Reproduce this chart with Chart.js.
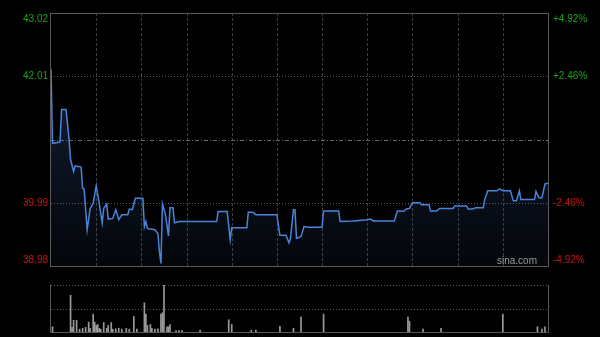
<!DOCTYPE html>
<html>
<head>
<meta charset="utf-8">
<script src="https://cdn.jsdelivr.net/npm/chart.js@4.4.1/dist/chart.umd.min.js"></script>
<style>
  html, body { margin: 0; padding: 0; background: #000; }
  #wrap { position: relative; width: 600px; height: 337px; overflow: hidden; }
  canvas { position: absolute; left: 0; }
</style>
</head>
<body>
<div id="wrap">
  <canvas id="price" style="top:0;width:600px;height:270px"></canvas>
  <canvas id="vol" style="top:270px;width:600px;height:67px"></canvas>
</div>
<script>
// minutes since open (HK session, 330 min) where the price line turns
const minutes = [0,1,6,7,10,12,13,15,16,20,21,22,24,26,28,30,32,34,35,37,38,41,43,45,47,51,52,54,56,61,62,63,64,66,69,71,72,73,74,76,78,79,81,82,85,110,111,117,119,120,130,131,134,136,150,152,156,158,159,161,162,163,166,168,171,180,181,191,192,201,210,212,214,228,230,232,234,236,238,240,245,246,251,252,256,258,267,268,276,277,280,282,287,288,290,296,298,300,305,307,309,311,312,321,322,324,326,328,330];
const prices = [42.12,40.94,40.96,41.48,41.48,41.00,40.68,40.49,40.58,40.56,40.22,40.21,39.56,39.90,39.98,40.26,39.99,39.67,39.90,39.97,39.73,39.74,39.88,39.72,39.80,39.80,39.89,39.88,40.06,40.06,39.61,39.69,39.58,39.57,39.56,39.50,39.21,39.02,39.97,39.80,39.46,39.91,39.91,39.67,39.69,39.69,39.85,39.85,39.40,39.59,39.59,39.84,39.84,39.80,39.80,39.47,39.47,39.35,39.42,39.88,39.88,39.42,39.45,39.61,39.60,39.60,39.86,39.86,39.69,39.70,39.72,39.73,39.70,39.70,39.86,39.86,39.85,39.89,39.90,39.99,39.99,39.96,39.96,39.86,39.86,39.90,39.90,39.94,39.94,39.89,39.89,39.91,39.91,40.04,40.18,40.18,40.21,40.18,40.18,40.02,40.02,40.18,40.04,40.04,40.17,40.07,40.07,40.29,40.30];

// volume bars (relative to the tallest bar = 100)
const volMinutes = [1,13,14,15,17,19,21,23,25,26,28,29,30,31,32,33,35,37,38,40,41,43,45,47,50,52,55,57,62,63,64,66,67,69,71,73,74,75,77,78,79,83,85,87,99,118,120,133,136,152,161,166,181,237,238,247,259,300,323,326,328];
const volValues = [11,78,10,25,25,6,8,10,21,8,38,21,14,16,8,6,20,8,14,20,6,7,8,6,8,6,33,6,62,38,14,16,8,6,7,38,41,100,11,11,16,3,3,3,4,26,16,4,4,12,8,32,38,32,23,6,8,38,11,6,11];

const prevClose = 41.00;
const priceTicks = [43.02, 42.01, 39.99, 38.98];
const pctTicks = ["+4.92%", "+2.46%", "-2.46%", "-4.92%"];
const gridMinutes = [30, 60, 90, 120, 150, 180, 210, 240, 270, 300];

const FONT = '"Liberation Sans", Arial, sans-serif';
const GREEN = "#1aa31a";
const RED = "#d01010";

function hLine(ctx, area, y, dash, color) {
  ctx.save();
  ctx.strokeStyle = color;
  ctx.lineWidth = 1;
  ctx.setLineDash(dash);
  ctx.beginPath();
  ctx.moveTo(area.left, Math.round(y) + 0.5);
  ctx.lineTo(area.right, Math.round(y) + 0.5);
  ctx.stroke();
  ctx.restore();
}

const priceGrid = {
  id: "priceGrid",
  beforeDatasetsDraw(chart) {
    const { ctx, chartArea: a, scales } = chart;
    ctx.save();
    ctx.strokeStyle = "#3c3c3c";
    ctx.lineWidth = 1;
    ctx.setLineDash([3, 2]);
    gridMinutes.forEach((m) => {
      const x = Math.round(scales.x.getPixelForValue(m)) + 0.5;
      ctx.beginPath();
      ctx.moveTo(x, a.top);
      ctx.lineTo(x, a.bottom);
      ctx.stroke();
    });
    ctx.restore();
    [priceTicks[1], priceTicks[2]].forEach((p) => {
      hLine(ctx, a, scales.y.getPixelForValue(p), [1, 2], "#5a5a5a");
    });
    hLine(ctx, a, scales.y.getPixelForValue(prevClose), [4, 2, 1, 2], "#6a6a6a");
  },
  afterDatasetsDraw(chart) {
    const { ctx, chartArea: a, scales } = chart;
    ctx.save();
    ctx.strokeStyle = "#5a5a5a";
    ctx.lineWidth = 1;
    ctx.strokeRect(Math.round(a.left) - 0.5, Math.round(a.top) + 0.5, Math.round(a.right - a.left) + 1, Math.round(a.bottom - a.top));
    ctx.font = `10px ${FONT}`;
    ctx.textBaseline = "middle";
    priceTicks.forEach((p, i) => {
      let y = scales.y.getPixelForValue(p);
      if (i === 0) y += 6;
      if (i === priceTicks.length - 1) y -= 6;
      ctx.fillStyle = p > prevClose ? GREEN : RED;
      ctx.textAlign = "right";
      ctx.fillText(p.toFixed(2), a.left - 3, y);
      ctx.textAlign = "left";
      ctx.fillText(pctTicks[i], a.right + 5, y);
    });
    ctx.fillStyle = "#9a9a9a";
    ctx.font = `10px ${FONT}`;
    ctx.textAlign = "right";
    ctx.fillText("sina.com", a.right - 11, a.bottom - 5);
    ctx.restore();
  },
};

new Chart(document.getElementById("price"), {
  type: "line",
  data: {
    datasets: [
      {
        data: minutes.map((m, i) => ({ x: m, y: prices[i] })),
        borderColor: "#4a84d8",
        borderWidth: 1.5,
        pointRadius: 0,
        tension: 0,
        fill: "start",
        backgroundColor(c) {
          const a = c.chart.chartArea;
          if (!a) return "rgba(0,0,0,0)";
          const g = c.chart.ctx.createLinearGradient(0, a.top, 0, a.bottom);
          g.addColorStop(0, "rgba(60,100,170,0.38)");
          g.addColorStop(1, "rgba(60,100,170,0.06)");
          return g;
        },
      },
    ],
  },
  options: {
    responsive: false,
    animation: false,
    events: [],
    layout: { padding: { left: 51, right: 52, top: 13, bottom: 4 } },
    plugins: { legend: { display: false }, tooltip: { enabled: false } },
    scales: {
      x: { type: "linear", min: 0, max: 330, display: false },
      y: { min: priceTicks[3], max: priceTicks[0], display: false },
    },
  },
  plugins: [priceGrid],
});

const volGrid = {
  id: "volGrid",
  beforeDatasetsDraw(chart) {
    const { ctx, chartArea: a, scales } = chart;
    hLine(ctx, a, a.top, [1, 2], "#5a5a5a");
    hLine(ctx, a, scales.y.getPixelForValue(50), [1, 2], "#5a5a5a");
  },
  afterDatasetsDraw(chart) {
    const { ctx, chartArea: a } = chart;
    ctx.save();
    ctx.strokeStyle = "#5a5a5a";
    ctx.lineWidth = 1;
    ctx.beginPath();
    ctx.moveTo(Math.round(a.left) - 0.5, a.top);
    ctx.lineTo(Math.round(a.left) - 0.5, Math.round(a.bottom) + 0.5);
    ctx.lineTo(Math.round(a.right) + 0.5, Math.round(a.bottom) + 0.5);
    ctx.lineTo(Math.round(a.right) + 0.5, a.top);
    ctx.stroke();
    ctx.restore();
  },
};

new Chart(document.getElementById("vol"), {
  type: "bar",
  data: {
    datasets: [
      {
        data: volMinutes.map((m, i) => ({ x: m, y: volValues[i] })),
        backgroundColor: "#9a9a9a",
        barThickness: 1,
      },
    ],
  },
  options: {
    responsive: false,
    animation: false,
    events: [],
    layout: { padding: { left: 51, right: 52, top: 15, bottom: 5 } },
    plugins: { legend: { display: false }, tooltip: { enabled: false } },
    scales: {
      x: { type: "linear", min: 0, max: 330, display: false, offset: false },
      y: { min: 0, max: 100, display: false },
    },
  },
  plugins: [volGrid],
});
</script>
</body>
</html>
